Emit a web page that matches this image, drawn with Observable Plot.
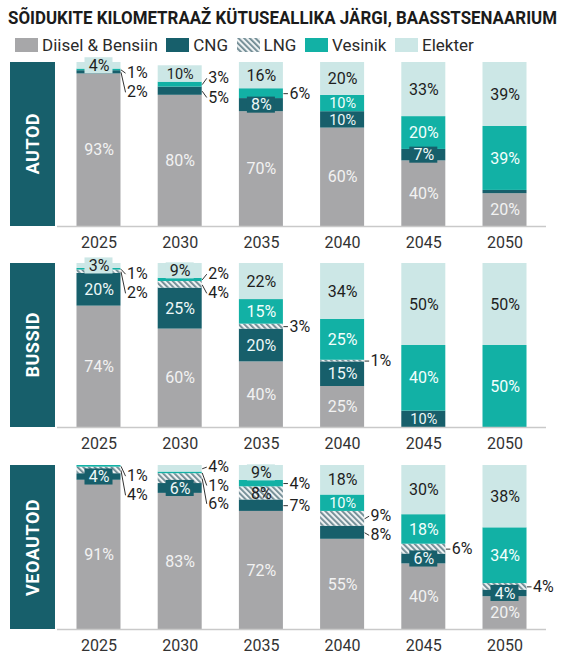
<!DOCTYPE html>
<html><head><meta charset="utf-8">
<script src="https://cdn.jsdelivr.net/npm/d3@7"></script>
<script src="https://cdn.jsdelivr.net/npm/@observablehq/plot@0.6"></script>
<style>
body{margin:0;background:#fff;font-family:Roboto,"Noto Sans",sans-serif;}
#root{position:relative;width:566px;height:654px;overflow:hidden;background:#fff;}
#title{position:absolute;left:8px;top:9px;font-weight:700;font-size:18px;line-height:18px;color:#1b1b1b;white-space:nowrap;transform-origin:0 0;}
#legend{position:absolute;left:15px;top:38px;display:flex;align-items:center;font-size:17px;line-height:14px;color:#2a2a2a;}
.item{display:flex;align-items:center;margin-right:8.5px;}
.sw{width:23px;height:14px;margin-right:4px;display:block;}
.panel{position:absolute;left:0;width:566px;}
.side{position:absolute;left:10px;width:45px;background:#175f6b;color:#fff;font-weight:700;font-size:18px;display:flex;align-items:center;justify-content:center;}
.side span{writing-mode:vertical-rl;transform:rotate(180deg);letter-spacing:0.5px;}
</style></head><body>
<svg width="0" height="0" style="position:absolute"><defs>
<pattern id="lngHatch" patternUnits="userSpaceOnUse" width="4" height="4" patternTransform="rotate(-45)"><rect width="4" height="4" fill="#eef2f3"/><rect width="1.8" height="4" fill="#6d8891"/></pattern>
</defs></svg>
<div id="root">
  <div id="title">SÕIDUKITE KILOMETRAAŽ KÜTUSEALLIKA JÄRGI, BAASSTSENAARIUM</div>
  <div id="legend"></div>
</div>
<script>
// ---------- data ----------
const years = [2025, 2030, 2035, 2040, 2045, 2050];
const seriesNames = ["Diisel & Bensiin", "CNG", "LNG", "Vesinik", "Elekter"];
const seriesColors = ["#a7a7a9", "#175f6b", "url(#lngHatch)", "#12b1a5", "#cce7e6"];
const labelColors = ["#f2f2f2", "#eef8f8", "#1e1e1e", "#f2fffd", "#1e1e1e"];
const panelNames = ["AUTOD", "BUSSID", "VEOAUTOD"];

const autodDiisel   = [93, 80, 70, 60, 40, 20];
const autodCNG      = [2, 5, 8, 10, 7, 2];
const autodLNG      = [0, 0, 0, 0, 0, 0];
const autodVesinik  = [1, 3, 6, 10, 20, 39];
const autodElekter  = [4, 10, 16, 20, 33, 39];

const bussidDiisel  = [74, 60, 40, 25, 0, 0];
const bussidCNG     = [20, 25, 20, 15, 10, 0];
const bussidLNG     = [2, 4, 3, 1, 0, 0];
const bussidVesinik = [1, 2, 15, 25, 40, 50];
const bussidElekter = [3, 9, 22, 34, 50, 50];

const veoDiisel     = [91, 83, 72, 55, 40, 20];
const veoCNG        = [4, 6, 7, 8, 6, 4];
const veoLNG        = [4, 6, 8, 9, 6, 4];
const veoVesinik    = [1, 1, 4, 10, 18, 34];
const veoElekter    = [0, 4, 9, 18, 30, 38];

// labels called out beside the bar (year, series)
const autodCallouts  = [[2025,"Vesinik"],[2025,"CNG"],[2030,"Vesinik"],[2030,"CNG"],[2035,"Vesinik"]];
const bussidCallouts = [[2025,"Vesinik"],[2025,"LNG"],[2030,"Vesinik"],[2030,"LNG"],[2035,"LNG"],[2040,"LNG"]];
const veoCallouts    = [[2025,"Vesinik"],[2025,"LNG"],[2030,"Elekter"],[2030,"Vesinik"],[2030,"LNG"],[2035,"Vesinik"],[2035,"CNG"],[2040,"LNG"],[2040,"CNG"],[2045,"LNG"],[2050,"LNG"]];
const autodUnlabeled = [[2050,"CNG"]];

const panels = [
  {name: panelNames[0], values: [autodDiisel, autodCNG, autodLNG, autodVesinik, autodElekter], callouts: autodCallouts, unlabeled: autodUnlabeled},
  {name: panelNames[1], values: [bussidDiisel, bussidCNG, bussidLNG, bussidVesinik, bussidElekter], callouts: bussidCallouts, unlabeled: []},
  {name: panelNames[2], values: [veoDiisel, veoCNG, veoLNG, veoVesinik, veoElekter], callouts: veoCallouts, unlabeled: []}
];

// ---------- layout ----------
const W = 566, MT = 12, AREA = 164, ML = 57, MR = 20;
const panelTops = [62, 263, 465];
const HW = 1.355;            // half bar width in years
const PXY = 16.24;           // px per year
const BH = 4.9;              // half label box height in %
const xDomain = [2025 - 2.555, 2050 + 2.555];

// legend
const legend = document.getElementById("legend");
seriesNames.forEach((s, i) => {
  const it = document.createElement("div"); it.className = "item";
  const sw = document.createElementNS("http://www.w3.org/2000/svg", "svg");
  sw.setAttribute("class", "sw"); sw.setAttribute("width", 23); sw.setAttribute("height", 14);
  const r = document.createElementNS("http://www.w3.org/2000/svg", "rect");
  r.setAttribute("width", 23); r.setAttribute("height", 14); r.setAttribute("fill", seriesColors[i]);
  sw.appendChild(r); it.appendChild(sw);
  const t = document.createElement("span"); t.textContent = s; it.appendChild(t);
  legend.appendChild(it);
});

function placeOutside(items) {
  let clusters = items.map(d => ({items: [d], c: d.mid}));
  const gapFor = k => k >= 3 ? 11.2 : 11.7;
  let merged = true;
  while (merged) {
    merged = false;
    for (let i = 0; i < clusters.length - 1; i++) {
      const a = clusters[i], b = clusters[i + 1];
      const aBottom = a.c - (a.items.length - 1) / 2 * gapFor(a.items.length);
      const bTop = b.c + (b.items.length - 1) / 2 * gapFor(b.items.length);
      if (aBottom - bTop < 11.7) {
        const its = a.items.concat(b.items);
        clusters.splice(i, 2, {items: its, c: d3.mean(its, d => d.mid)});
        merged = true; break;
      }
    }
  }
  let limit = 100;
  for (const cl of clusters) {
    const k = cl.items.length, G = gapFor(k);
    const T = Math.min(limit, k >= 3 ? 99 : 93.5);
    let top = cl.c + (k - 1) / 2 * G;
    if (top > T) cl.c -= top - T;
    top = cl.c + (k - 1) / 2 * G;
    cl.items.forEach((d, j) => d.ly = top - j * G);
    limit = cl.c - (k - 1) / 2 * G - 11.7;
  }
}

const root = document.getElementById("root");
panels.forEach((p, pi) => {
  const rows = [];
  years.forEach((year, yi) => {
    let acc = 0;
    seriesNames.forEach((s, si) => {
      const v = p.values[si][yi];
      if (v > 0) rows.push({year, series: s, si, value: v, y1: acc, y2: acc + v, mid: acc + v / 2, label: v + "%"});
      acc += v;
    });
  });
  const has = (list, d) => list.some(([y, s]) => y === d.year && s === d.series);
  const labeled = rows.filter(d => !has(p.unlabeled, d));
  const inside = labeled.filter(d => !has(p.callouts, d));
  const outside = labeled.filter(d => has(p.callouts, d));
  years.forEach(y => placeOutside(outside.filter(d => d.year === y).sort((a, b) => b.mid - a.mid)));
  const boxes = inside.filter(d => d.series !== "LNG" && d.value < 10);
  const boxHalf = d => (d.label.length * 5 + 4) / PXY;

  const MB = pi === 2 ? 26 : 30;
  const H = MT + AREA + MB;
  const marks = [
    Plot.rect(rows, {x1: d => d.year - HW, x2: d => d.year + HW, y1: "y1", y2: "y2", fill: "series"}),
    Plot.ruleY([0], {stroke: "#c9c9c9", strokeWidth: 1.5}),
    Plot.rect(boxes, {x1: d => d.year - boxHalf(d), x2: d => d.year + boxHalf(d), y1: d => d.mid - BH, y2: d => d.mid + BH, fill: "series"})
  ];
  seriesNames.forEach((s, si) => {
    marks.push(Plot.text(inside.filter(d => d.si === si), {x: "year", y: "mid", text: "label", fill: labelColors[si], fontSize: d => d.value === 10 && d.label.length > 2 ? 14.5 : 16}));
  });
  marks.push(Plot.link(outside, {x1: d => d.year + HW, y1: "mid", x2: d => d.year + HW + 0.28, y2: "ly", stroke: "#333", strokeWidth: 1}));
  marks.push(Plot.text(outside, {x: d => d.year + HW, y: "ly", dx: 6, text: "label", textAnchor: "start", fill: "#1e1e1e", fontSize: 16}));

  const chart = Plot.plot({
    width: W, height: H,
    marginTop: MT, marginBottom: MB, marginLeft: ML, marginRight: MR,
    style: {background: "none", overflow: "visible", fontFamily: "Roboto, 'Noto Sans', sans-serif", fontSize: "16px", color: "#333"},
    x: {domain: xDomain, ticks: years, tickFormat: "d", tickSize: 0, tickPadding: 10, label: null},
    y: {domain: [0, 100], axis: null},
    color: {domain: seriesNames, range: seriesColors},
    marks
  });
  const div = document.createElement("div");
  div.className = "panel";
  div.style.top = (panelTops[pi] - MT) + "px";
  div.style.height = H + "px";
  div.appendChild(chart);
  const side = document.createElement("div");
  side.className = "side";
  side.style.top = MT + "px";
  side.style.height = AREA + "px";
  side.innerHTML = "<span>" + p.name + "</span>";
  div.appendChild(side);
  root.appendChild(div);
});

// fit title width
const title = document.getElementById("title");
const tw = title.getBoundingClientRect().width;
title.style.transform = `scaleX(${549 / tw})`;
</script>
</body></html>
